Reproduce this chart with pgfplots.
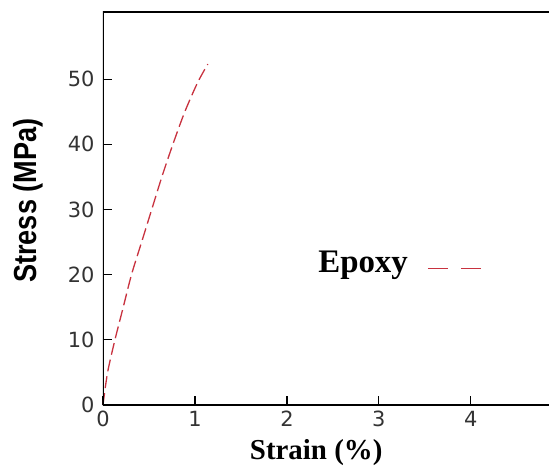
\documentclass[border=0pt]{standalone}
\usepackage{pgfplots}
\pgfplotsset{compat=1.18}
\usepackage{fontspec}
\setmainfont{Liberation Serif}
\setsansfont{Liberation Sans}
\newfontfamily\tickfont{DejaVu Sans}
\definecolor{epoxyred}{HTML}{C8323F}
\definecolor{ticktext}{HTML}{333333}

\begin{document}
\begin{tikzpicture}
\begin{axis}[
  scale only axis,
  width=446bp, height=393bp,
  xmin=0, xmax=4.85, ymin=0, ymax=60.3,
  axis line style={draw=none},
  xtick={0,1,2,3,4}, ytick={0,10,20,30,40,50},
  tick align=inside,
  xtick pos=left, ytick pos=left,
  major tick style={draw=black, line width=1.2bp},
  major tick length=9bp,
  /pgf/number format/assume math mode=true,
  ticklabel style={font=\tickfont\fontsize{21}{23}\selectfont, text=ticktext},
  xticklabel style={inner ysep=0pt, yshift=-6bp},
  yticklabel style={xshift=-5bp},
  xlabel={Strain (\%)},
  ylabel={\scalebox{0.85}[1]{Stress (MPa)}},
  xlabel style={at={(axis description cs:0.478,-0.12)}, anchor=center, inner sep=0pt,
    font=\bfseries\fontsize{29}{31}\selectfont},
  ylabel style={at={(axis description cs:-0.168,0.52)}, anchor=center,
    font=\sffamily\bfseries\fontsize{32}{35}\selectfont},
  legend plot pos=right,
  legend style={at={(axis description cs:0.668,0.362)}, anchor=center,
    draw=none, fill=none, font=\bfseries\fontsize{33}{36}\selectfont},
  legend image code/.code={
    \path[draw=none] (0bp,0bp) -- (75bp,0bp);
    \draw[#1, dash pattern=on 20bp off 13bp] (18bp,-6bp) -- (75bp,-6bp);},
]
  \coordinate (O) at (rel axis cs:0,0);
  % epoxy
  \addplot[color=epoxyred, line width=1.3bp, dash pattern=on 12bp off 5bp, smooth]
    coordinates {
      (0,0) (0.05,5) (0.13,10) (0.22,15) (0.31,20) (0.42,25)
      (0.53,30) (0.64,35) (0.76,40) (0.89,45) (1.03,49.5) (1.14,52.3)
    };
  \addlegendentry{Epoxy}
  \draw[line width=2.8bp] (rel axis cs:1,1) -- (rel axis cs:0,1)
    -- (rel axis cs:0,0) -- (rel axis cs:1,0);
\end{axis}
\pgfresetboundingbox
\path (O) ++(-103bp,-68bp) rectangle ++(549bp,473bp);
\end{tikzpicture}
\end{document}
